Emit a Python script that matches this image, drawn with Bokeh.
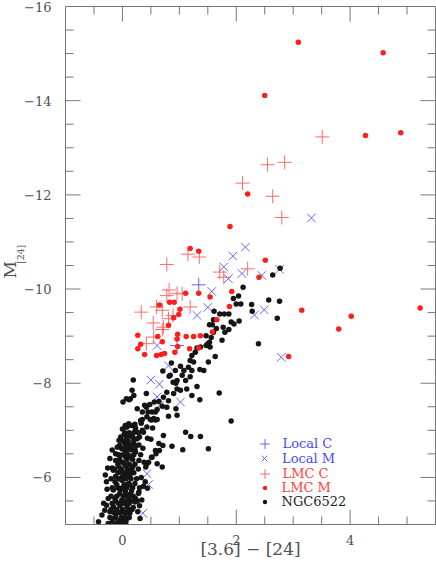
from bokeh.plotting import figure
from bokeh.models import (Range1d, LinearAxis, SingleIntervalTicker, Title,
                          Legend, LegendItem)
from bokeh.embed import file_html
from bokeh.resources import INLINE

# ---------------- data ----------------
x_lo, x_hi = -1.0, 5.5
y_lo, y_hi = -5.0, -16.0
x_ticks = [0, 2, 4]
x_tick_labels = ["0", "2", "4"]
y_ticks = [-16, -14, -12, -10, -8, -6]
y_tick_labels = ["\u221216", "\u221214", "\u221212", "\u221210", "\u22128", "\u22126"]
minor_step = 0.5

local_c_x = [1.34, 0.96]
local_c_y = [-10.09, -8.80]

local_m_x = [3.32, 2.16, 1.94, 1.78, 2.10, 2.45, 2.76, 1.86, 2.32, 2.49, 2.79, 1.57,
             1.50, 1.31, 0.61, 0.81, 0.50, 0.65, 0.61, 0.66, 1.02, 0.43, 0.46, 0.36]
local_m_y = [-11.51, -10.89, -10.70, -10.47, -10.33, -10.29, -10.42, -10.22, -9.45, -9.56, -8.55, -9.95,
             -9.61, -9.44, -8.80, -8.37, -8.07, -7.98, -7.71, -7.53, -7.60, -6.08, -5.85, -5.24]

lmc_c_x = [3.51, 2.55, 2.85, 2.11, 2.64, 2.80, 2.20, 1.15, 1.35, 0.78, 1.71, 1.78, 0.82, 0.96,
           1.05, 0.78, 1.19, 0.60, 0.70, 0.33, 0.89, 0.81, 0.54, 0.72, 0.70, 0.55, 0.42]
lmc_c_y = [-13.23, -12.64, -12.69, -12.25, -11.97, -11.52, -10.43, -10.74, -10.68, -10.52, -10.36, -10.25, -9.98, -9.91,
           -9.90, -9.86, -9.62, -9.62, -9.55, -9.51, -9.44, -9.37, -9.28, -9.19, -9.14, -8.98, -8.84]

lmc_m_x = [3.09, 4.58, 2.50, 4.27, 4.89, 2.20, 1.89, 2.51, 2.40, 1.19, 1.34, 1.92, 1.88, 3.15, 4.02,
           5.23, 3.80, 2.92, 1.11, 1.34, 1.54, 1.66, 1.58, 1.12, 1.25, 1.37, 1.34, 1.18, 0.83, 0.91,
           0.65, 1.01, 0.99, 0.90, 0.81, 0.97, 0.27, 0.62, 0.96, 0.32, 0.27, 0.39, 0.60, 0.68, 0.74,
           0.70, 0.92, 0.97]
lmc_m_y = [-15.24, -15.02, -14.11, -13.26, -13.32, -12.02, -11.33, -10.61, -10.25, -10.86, -10.80, -9.95, -9.63, -9.55, -9.42,
           -9.60, -9.15, -8.57, -9.91, -9.91, -9.83, -9.35, -9.09, -8.99, -8.99, -9.01, -8.75, -8.73, -9.72, -9.72,
           -9.66, -9.57, -9.46, -9.39, -9.23, -9.04, -9.02, -8.99, -8.94, -8.83, -8.73, -8.61, -8.59, -8.61, -8.63,
           -8.88, -8.66, -8.78]

# NGC6522, read region by region as (colour, magnitude) pairs
ngc_upper = [(2.77, -10.44), (2.64, -10.30), (2.12, -10.04), (2.04, -9.85), (1.95, -9.80), (2.00, -9.68),
             (2.08, -9.68), (2.27, -9.67), (2.57, -9.77), (2.76, -9.74), (2.28, -9.53), (2.72, -9.38),
             (1.61, -9.53), (1.71, -9.47), (1.79, -9.47), (1.87, -9.47), (1.91, -9.30), (1.96, -9.26),
             (2.05, -9.32), (1.60, -9.35), (1.53, -9.24), (1.58, -9.24), (1.65, -9.16), (1.77, -9.19),
             (1.87, -9.14), (1.80, -9.08), (1.56, -8.97), (1.75, -8.91), (1.50, -8.84), (1.47, -8.80),
             (1.54, -8.77), (1.31, -8.75), (2.39, -8.84), (1.70, -7.79), (1.91, -7.20)]
ngc_mid = [(1.60, -9.08), (1.47, -9.01), (1.53, -8.87), (1.37, -8.77), (1.63, -8.57), (1.51, -8.45),
           (1.43, -8.27), (1.36, -8.29), (1.28, -8.66), (1.22, -8.59), (1.19, -8.48), (1.25, -8.45),
           (1.16, -8.34), (1.22, -8.27), (1.08, -8.27), (1.02, -8.36), (0.93, -8.27), (0.84, -8.17),
           (1.05, -8.17), (1.19, -8.14), (0.96, -8.06), (1.11, -8.06), (0.89, -8.02), (1.31, -7.93),
           (1.13, -7.88), (1.02, -7.85), (0.78, -7.81), (0.90, -7.78), (1.22, -7.74), (1.36, -7.65),
           (0.72, -7.70), (0.81, -7.63), (0.56, -7.60), (0.48, -7.55), (0.42, -7.49), (0.70, -7.51),
           (0.78, -7.49), (0.61, -7.44), (0.52, -7.39), (0.96, -7.32), (0.35, -7.39), (0.26, -7.46),
           (0.17, -7.85), (0.20, -7.74), (0.14, -7.67), (0.07, -7.67), (0.01, -7.60), (0.19, -8.07),
           (0.43, -7.29), (0.55, -7.25), (0.32, -7.21), (0.11, -7.14), (0.07, -7.07), (0.43, -7.07),
           (0.23, -7.03), (0.37, -6.96), (0.72, -6.89), (1.11, -6.96), (1.20, -6.87), (1.37, -6.87),
           (0.64, -6.72), (0.87, -6.66), (1.06, -6.59), (1.51, -6.61), (0.52, -6.43), (0.70, -6.22),
           (0.61, -6.29), (0.46, -6.32), (0.86, -8.43), (0.71, -8.26), (0.82, -8.15), (0.94, -8.00),
           (0.96, -7.88), (0.42, -7.78), (0.12, -7.65), (0.64, -7.61), (0.39, -7.53), (0.94, -7.46),
           (0.45, -7.39), (0.58, -7.39), (0.81, -7.30), (0.49, -7.23), (0.61, -7.23), (0.22, -7.13),
           (0.33, -7.15), (0.59, -6.50), (0.43, -6.29), (0.41, -6.22), (0.29, -5.69), (0.23, -5.55),
           (0.71, -6.68), (0.65, -6.57)]
ngc_branch = [(0.35, -7.23), (0.51, -7.22), (0.58, -7.22), (0.23, -7.05), (0.08, -7.07), (0.00, -7.03),
              (0.21, -6.96), (0.35, -7.00), (0.53, -7.05), (0.03, -6.91), (0.15, -6.88), (0.26, -6.82),
              (0.44, -6.83), (0.50, -6.81), (-0.06, -6.79), (0.03, -6.75), (0.09, -6.69), (0.18, -6.71),
              (0.29, -6.69), (-0.09, -6.64), (-0.01, -6.61), (0.06, -6.57), (0.16, -6.59), (0.23, -6.54),
              (0.58, -6.57), (-0.12, -6.50), (-0.03, -6.47), (0.06, -6.43), (0.15, -6.43), (0.29, -6.36),
              (0.38, -6.32), (0.51, -6.43), (-0.12, -6.36), (0.00, -6.32), (-0.26, -6.20), (-0.18, -6.20),
              (0.06, -6.25), (0.18, -6.22), (-0.06, -6.22), (-0.16, -6.15), (-0.04, -6.12), (0.05, -6.08),
              (0.13, -6.05), (-0.13, -5.91), (-0.01, -5.94), (0.11, -5.87), (0.22, -5.87), (-0.16, -5.73),
              (-0.04, -5.73), (0.05, -5.70), (0.16, -5.71), (0.28, -5.66), (-0.25, -5.55), (-0.13, -5.55),
              (-0.01, -5.52), (0.11, -5.54), (0.22, -5.48), (0.34, -5.52), (-0.28, -5.41), (-0.16, -5.38),
              (-0.04, -5.40), (0.08, -5.38), (0.19, -5.36), (-0.22, -5.27), (-0.10, -5.24), (0.02, -5.27),
              (0.13, -5.24), (-0.36, -5.20), (-0.16, -5.13), (-0.04, -5.09), (0.08, -5.13), (0.31, -5.13),
              (-0.25, -5.02), (-0.10, -5.02), (0.02, -5.00), (-0.42, -5.06), (0.37, -5.81), (0.44, -5.77),
              (0.40, -5.91), (-0.28, -5.91), (-0.30, -6.05), (-0.33, -5.45), (-0.31, -5.30), (0.27, -5.27),
              (0.30, -5.40), (-0.27, -5.75), (0.33, -6.00), (-0.22, -6.40), (0.36, -6.62), (-0.18, -6.58)]
ngc_core = [(-0.18, -5.05), (-0.08, -5.05), (0.00, -5.05), (0.06, -5.05),
            (-0.22, -5.15), (-0.12, -5.15), (-0.02, -5.15), (0.04, -5.15), (0.12, -5.15),
            (-0.15, -5.25), (-0.05, -5.25), (0.05, -5.25), (0.09, -5.25),
            (-0.20, -5.32), (-0.10, -5.32), (0.00, -5.32), (0.10, -5.32), (0.17, -5.32),
            (-0.18, -5.45), (-0.07, -5.45), (0.03, -5.45), (0.12, -5.45),
            (-0.12, -5.50), (0.00, -5.50), (0.07, -5.50), (0.15, -5.50), (0.26, -5.50),
            (-0.20, -5.60), (-0.10, -5.60), (0.02, -5.60), (0.10, -5.60), (0.19, -5.60),
            (-0.05, -5.65), (0.05, -5.65), (0.14, -5.65),
            (-0.18, -5.78), (-0.08, -5.78), (0.00, -5.78), (0.08, -5.78), (0.18, -5.78), (0.30, -5.78),
            (-0.10, -5.85), (0.03, -5.85), (0.12, -5.85),
            (-0.20, -5.97), (-0.06, -5.97), (0.06, -5.97), (0.15, -5.97), (0.25, -5.97),
            (-0.12, -6.02), (0.00, -6.02), (0.09, -6.02),
            (-0.08, -6.10), (0.02, -6.10), (0.12, -6.10), (0.20, -6.10),
            (-0.14, -6.18), (-0.02, -6.18), (0.08, -6.18), (0.16, -6.18), (0.28, -6.18),
            (-0.08, -6.28), (0.04, -6.28), (0.12, -6.28), (0.22, -6.28),
            (-0.05, -6.38), (0.08, -6.38), (0.18, -6.38),
            (-0.07, -6.48), (0.02, -6.48), (0.10, -6.48), (0.20, -6.48), (0.32, -6.48),
            (0.02, -6.60), (0.10, -6.60), (0.22, -6.60),
            (-0.05, -6.68), (0.05, -6.68), (0.14, -6.68), (0.24, -6.68),
            (0.00, -6.78), (0.10, -6.78), (0.20, -6.78),
            (-0.03, -6.86), (0.07, -6.86), (0.18, -6.86), (0.30, -6.86),
            (0.04, -6.95), (0.12, -6.95), (0.28, -6.95),
            (0.05, -7.10), (0.16, -7.10)]

ngc_pts = ngc_upper + ngc_mid + ngc_branch + ngc_core
ngc_x = [pt[0] for pt in ngc_pts]
ngc_y = [pt[1] for pt in ngc_pts]

# ---------------- style ----------------
FONT = "DejaVu Serif"
TXT = "#505050"
AXC = "#777777"
BLUE = "#6464ff"
BLUE_TXT = "#4848ff"
RED_LINE = "#ff6a6a"
RED_TXT = "#ff4040"
RED_DOT = "#ff1e1e"
BLACK_DOT = "#151515"

p = figure(width=436, frame_height=518,
           x_range=Range1d(x_lo, x_hi), y_range=Range1d(y_lo, y_hi),
           output_backend="svg", toolbar_location=None,
           x_axis_location=None, y_axis_location=None,
           min_border_left=65, min_border_right=1, min_border_top=6, min_border_bottom=0)
p.xgrid.visible = False
p.ygrid.visible = False
p.outline_line_color = AXC
p.background_fill_color = "white"
p.border_fill_color = "white"


def label_axis(ticks, labels, standoff):
    ax = LinearAxis(ticker=SingleIntervalTicker(interval=2, num_minor_ticks=4))
    ax.major_tick_in = 0
    ax.major_tick_out = 0
    ax.minor_tick_line_color = None
    ax.major_tick_line_color = None
    ax.axis_line_color = AXC
    ax.major_label_overrides = {t: l for t, l in zip(ticks, labels)}
    ax.major_label_text_font = FONT
    ax.major_label_text_font_size = "13px"
    ax.major_label_text_color = TXT
    ax.major_label_standoff = standoff
    return ax


xax = label_axis(x_ticks, x_tick_labels, 6)
xax.axis_label = "[3.6] \u2212 [24]"
xax.axis_label_text_font = FONT
xax.axis_label_text_font_size = "17px"
xax.axis_label_text_font_style = "normal"
xax.axis_label_text_color = TXT
xax.axis_label_standoff = -9
p.add_layout(xax, "below")

yax = label_axis(y_ticks, y_tick_labels, 10)
p.add_layout(yax, "left")

# y title: M with a subscript [24]
t_sub = Title(text="[24]", align="left", offset=261, standoff=-8, vertical_align="bottom",
              text_font=FONT, text_font_size="9px", text_font_style="normal", text_color=TXT)
t_m = Title(text="M", align="left", offset=246, standoff=-5, vertical_align="bottom",
            text_font=FONT, text_font_size="17px", text_font_style="normal", text_color=TXT)
p.add_layout(t_sub, "left")
p.add_layout(t_m, "left")

# ---------------- inward ticks on all four sides ----------------
n_minor = int(round((x_hi - x_lo) / minor_step))
x_minor = [x_lo + i * minor_step for i in range(1, n_minor) if (x_lo + i * minor_step) not in x_ticks]
n_minor_y = int(round((y_lo - y_hi) / minor_step))
y_minor = [y_hi + i * minor_step for i in range(1, n_minor_y) if (y_hi + i * minor_step) not in y_ticks]

for xs, ln in ((x_ticks, 15), (x_minor, 8)):
    p.ray(x=xs, y=[y_lo] * len(xs), length=ln, length_units="screen", angle=1.5707963,
          line_color=AXC, line_width=1)
    p.ray(x=xs, y=[y_hi] * len(xs), length=ln, length_units="screen", angle=-1.5707963,
          line_color=AXC, line_width=1)
for ys, ln in ((y_ticks, 15), (y_minor, 8)):
    p.ray(x=[x_lo] * len(ys), y=ys, length=ln, length_units="screen", angle=0.0,
          line_color=AXC, line_width=1)
    p.ray(x=[x_hi] * len(ys), y=ys, length=ln, length_units="screen", angle=3.1415927,
          line_color=AXC, line_width=1)

# ---------------- glyphs ----------------
r_lmc_c = p.scatter(lmc_c_x, lmc_c_y, marker="cross", size=14, line_color=RED_LINE, line_width=1)
r_loc_c = p.scatter(local_c_x, local_c_y, marker="cross", size=14, line_color=BLUE, line_width=1)
r_loc_m = p.scatter(local_m_x, local_m_y, marker="x", size=12, line_color=BLUE, line_width=1)
r_ngc = p.scatter(ngc_x, ngc_y, marker="circle", size=5.5, fill_color=BLACK_DOT, line_color=None)
r_lmc_m = p.scatter(lmc_m_x, lmc_m_y, marker="circle", size=5.5, fill_color=RED_DOT, line_color=None)

# legend-only swatches: one non-drawable (NaN) point each, same styles
nan = float("nan")
k_loc_c = p.scatter([nan], [nan], marker="cross", line_color=BLUE, fill_color=BLUE, line_width=1)
k_loc_m = p.scatter([nan], [nan], marker="x", line_color=BLUE, fill_color=BLUE, line_width=1)
k_lmc_c = p.scatter([nan], [nan], marker="cross", line_color=RED_LINE, fill_color=RED_LINE, line_width=1)
k_lmc_m = p.scatter([nan], [nan], marker="circle", fill_color=RED_DOT, line_color=None)
k_ngc = p.scatter([nan], [nan], marker="circle", fill_color=BLACK_DOT, line_color=None)

# ---------------- legend (one entry per colour) ----------------
# (label, swatch renderer, text colour, glyph box, row height above frame bottom)
LABEL_H = 16
entries = [("NGC6522", k_ngc, "#222222", 11, 23),
           ("LMC M", k_lmc_m, RED_TXT, 11, 37),
           ("LMC C", k_lmc_c, RED_TXT, 25, 51),
           ("Local M", k_loc_m, BLUE_TXT, 20, 66),
           ("Local C", k_loc_c, BLUE_TXT, 25, 81)]
for lab, rend, col, gb, row in entries:
    box_h = max(gb, LABEL_H)
    vx = 199 - gb / 2
    leg = Legend(items=[LegendItem(label=lab, renderers=[rend])],
                 location=(vx, row - box_h / 2))
    leg.padding = 0
    leg.margin = 0
    leg.spacing = 0
    leg.glyph_width = gb
    leg.glyph_height = gb
    leg.label_height = LABEL_H
    leg.label_standoff = int(round(18 - gb / 2))
    leg.border_line_alpha = 0
    leg.background_fill_alpha = 0
    leg.label_text_font = FONT
    leg.label_text_font_size = "13px"
    leg.label_text_color = col
    leg.label_text_baseline = "middle"
    p.add_layout(leg)

open("out.html", "w").write(file_html(p, INLINE))
